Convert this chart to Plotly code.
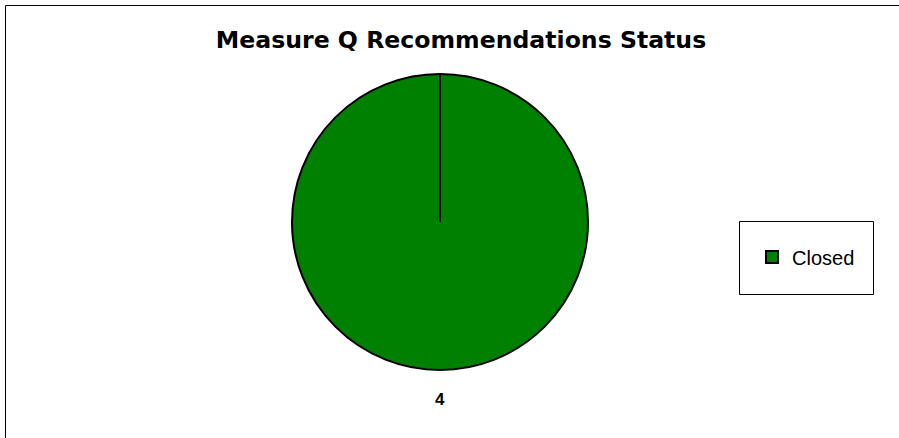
import plotly.graph_objects as go

W, H = 899, 438
labels = ["Closed"]
values = [4]
colors = ["#008000"]
title_text = "Measure Q Recommendations Status"

cx, cy, r = 440, 222, 148

fig = go.Figure()
fig.add_trace(go.Pie(
    labels=labels, values=values,
    marker=dict(colors=colors, line=dict(color="black", width=2)),
    textinfo="none", sort=False, direction="clockwise", rotation=0,
    domain=dict(x=[(cx - r) / W, (cx + r) / W], y=[1 - (cy + r) / H, 1 - (cy - r) / H]),
    hoverinfo="label+value",
))

# value label below pie
fig.add_annotation(x=cx / W, y=1 - 399 / H, xref="paper", yref="paper",
                   text=f"<b>{values[0]}</b>", showarrow=False,
                   xanchor="center", yanchor="middle",
                   font=dict(family="Liberation Sans, Arial", size=17, color="black"))

shapes = [
    # outer chart border
    dict(type="rect", xref="paper", yref="paper", x0=5.5 / W, x1=1.05, y0=-0.05, y1=1 - 5.5 / H,
         line=dict(color="black", width=1), fillcolor="rgba(0,0,0,0)"),
    # legend box
    dict(type="rect", xref="paper", yref="paper", x0=739.5 / W, x1=873.5 / W,
         y0=1 - 294.5 / H, y1=1 - 221.5 / H,
         line=dict(color="black", width=1), fillcolor="rgba(0,0,0,0)"),
    # radius line from center to top
    dict(type="line", xref="paper", yref="paper", x0=cx / W, x1=cx / W,
         y0=1 - cy / H, y1=1 - (cy - r) / H, line=dict(color="black", width=2)),
]

fig.update_layout(
    width=W, height=H,
    margin=dict(l=0, r=0, t=0, b=0),
    paper_bgcolor="white", plot_bgcolor="white",
    title=dict(text=f"<b>{title_text}</b>", x=461 / W, xanchor="center",
               y=1 - 40 / H, yanchor="middle",
               font=dict(family="DejaVu Sans", size=23.6, color="black")),
    showlegend=True,
    legend=dict(x=752 / W, y=1 - 257 / H, xanchor="left", yanchor="middle",
                bgcolor="rgba(0,0,0,0)", borderwidth=0,
                font=dict(family="Liberation Sans, Arial", size=20, color="black")),
    shapes=shapes,
)

fig.write_html("out.html", config={"displayModeBar": False},
               post_script="document.body.style.margin='0';")
